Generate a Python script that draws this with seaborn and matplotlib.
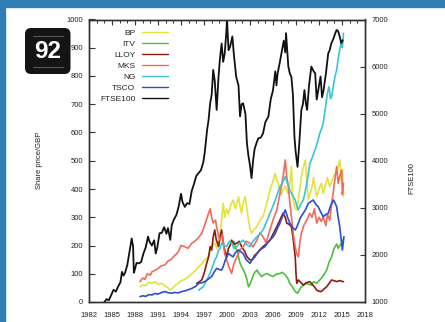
import numpy as np
import pandas as pd
import seaborn as sns
import matplotlib
matplotlib.use("Agg")
import matplotlib.pyplot as plt
from matplotlib.patches import FancyBboxPatch, Rectangle
from matplotlib.lines import Line2D

# ---- share prices (GBp) ----
bp_years = [1988.65, 1989.0, 1989.4, 1989.8, 1990.2, 1990.6, 1991.0, 1991.5, 1991.9, 1992.3, 1992.6, 1992.9,
            1993.2, 1993.6, 1994.0, 1994.5, 1995.0, 1995.4, 1995.9, 1996.3, 1996.7, 1997.1, 1997.5, 1997.9,
            1998.2, 1998.4, 1998.7, 1999.1, 1999.3, 1999.5, 1999.7, 1999.96, 2000.2, 2000.5, 2000.8, 2001.1,
            2001.5, 2001.7, 2001.9, 2002.1, 2002.35, 2002.6, 2002.8, 2003.0, 2003.2, 2003.5, 2003.9, 2004.3,
            2004.7, 2005.1, 2005.6, 2005.9, 2006.3, 2006.5, 2006.7, 2007.0, 2007.3, 2007.6, 2007.9, 2008.2,
            2008.4, 2008.6, 2008.9, 2009.1, 2009.4, 2009.7, 2009.9, 2010.2, 2010.4, 2010.6, 2010.8, 2011.0,
            2011.3, 2011.5, 2011.7, 2012.0, 2012.3, 2012.55, 2012.8, 2013.1, 2013.4, 2013.7, 2014.0, 2014.3,
            2014.5, 2014.7, 2014.9, 2015.05, 2015.2]
bp_vals = [54, 60, 58, 70, 66, 72, 62, 66, 58, 50, 42, 48,
           58, 66, 75, 80, 90, 100, 112, 125, 135, 149, 160, 185,
           200, 208, 190, 243, 290, 349, 300, 330, 310, 345, 361, 330,
           373, 340, 314, 350, 373, 330, 290, 260, 243, 255, 267, 290,
           302, 340, 396, 420, 455, 430, 420, 380, 396, 410, 385, 420,
           480, 361, 330, 326, 380, 444, 470, 503, 440, 361, 380, 396,
           440, 400, 373, 400, 420, 385, 410, 440, 408, 430, 450, 455,
           480, 503, 430, 470, 373]

itv_years = [2000.9, 2001.1, 2001.3, 2001.5, 2001.7, 2002.0, 2002.35, 2002.6, 2002.8, 2003.0, 2003.2, 2003.5,
             2003.9, 2004.2, 2004.5, 2004.8, 2005.2, 2005.6, 2006.0, 2006.4, 2006.9, 2007.2, 2007.6, 2007.9,
             2008.2, 2008.5, 2008.9, 2009.2, 2009.4, 2009.7, 2010.0, 2010.4, 2010.7, 2011.0, 2011.3, 2011.7,
             2012.0, 2012.3, 2012.6, 2013.0, 2013.3, 2013.65, 2013.9, 2014.1, 2014.3, 2014.5, 2014.7, 2014.95,
             2015.1]
itv_vals = [215, 190, 184, 160, 137, 120, 101, 80, 54, 62, 78, 100,
            113, 100, 90, 96, 101, 95, 90, 98, 101, 105, 96, 85,
            66, 55, 37, 31, 40, 54, 60, 66, 62, 60, 72, 66,
            75, 84, 95, 113, 140, 160, 185, 196, 205, 190, 200, 208,
            220]

lloy_years = [1996.05, 1996.4, 1996.7, 1997.0, 1997.35, 1997.6, 1997.8, 1998.0, 1998.2, 1998.4, 1998.6, 1998.9,
              1999.1, 1999.3, 1999.5, 1999.7, 1999.96, 2000.2, 2000.4, 2000.6, 2000.9, 2001.3, 2001.6, 2001.9,
              2002.3, 2002.6, 2003.0, 2003.3, 2003.6, 2003.9, 2004.3, 2004.7, 2005.1, 2005.6, 2006.0, 2006.5,
              2006.9, 2007.3, 2007.6, 2007.8, 2008.1, 2008.4, 2008.6, 2008.9, 2009.0, 2009.1, 2009.3, 2009.6,
              2009.95, 2010.3, 2010.8, 2011.2, 2011.5, 2011.7, 2012.0, 2012.3, 2012.6, 2013.0, 2013.3, 2013.65,
              2014.0, 2014.3, 2014.7, 2015.0, 2015.2]
lloy_vals = [66, 72, 78, 100, 137, 160, 196, 184, 230, 255, 220, 196,
             230, 255, 210, 185, 160, 190, 200, 219, 205, 208, 215, 196,
             180, 160, 149, 150, 165, 172, 185, 196, 205, 219, 240, 267,
             290, 314, 300, 279, 275, 267, 230, 160, 100, 66, 78, 70,
             60, 68, 72, 60, 50, 42, 38, 37, 45, 54, 65, 78,
             75, 72, 76, 73, 72]

mks_years = [1988.65, 1989.0, 1989.3, 1989.6, 1990.0, 1990.2, 1990.6, 1991.0, 1991.4, 1991.9, 1992.3, 1992.7,
             1993.0, 1993.4, 1993.65, 1994.0, 1994.5, 1994.9, 1995.4, 1995.8, 1996.2, 1996.7, 1997.0, 1997.3,
             1997.6, 1997.8, 1998.0, 1998.2, 1998.5, 1998.9, 1999.1, 1999.4, 1999.7, 1999.96, 2000.3, 2000.6,
             2000.9, 2001.3, 2001.7, 2002.1, 2002.5, 2003.0, 2003.4, 2003.9, 2004.3, 2004.7, 2005.1, 2005.6,
             2006.0, 2006.5, 2006.8, 2007.1, 2007.4, 2007.6, 2007.8, 2008.0, 2008.2, 2008.4, 2008.7, 2008.9,
             2009.1, 2009.3, 2009.5, 2009.7, 2010.0, 2010.4, 2010.8, 2011.1, 2011.4, 2011.7, 2012.0, 2012.3,
             2012.55, 2012.9, 2013.1, 2013.4, 2013.65, 2013.9, 2014.1, 2014.3, 2014.5, 2014.7, 2014.95, 2015.05,
             2015.2]
mks_vals = [72, 85, 80, 100, 95, 107, 112, 118, 128, 131, 145, 150,
            160, 170, 178, 200, 196, 190, 208, 215, 225, 243, 265, 290,
            314, 330, 300, 280, 290, 231, 219, 240, 170, 149, 120, 101,
            135, 160, 185, 196, 215, 208, 195, 219, 245, 231, 210, 255,
            290, 326, 370, 408, 460, 503, 440, 408, 350, 302, 230, 196,
            170, 160, 210, 243, 270, 290, 314, 300, 330, 279, 300, 285,
            302, 270, 310, 290, 350, 396, 440, 479, 420, 444, 467, 380,
            420]

ng_years = [1996.3, 1996.6, 1996.9, 1997.2, 1997.5, 1997.8, 1998.1, 1998.4, 1998.65, 1998.9, 1999.1, 1999.3,
            1999.6, 1999.96, 2000.3, 2000.6, 2000.9, 2001.3, 2001.7, 2002.1, 2002.5, 2003.0, 2003.4, 2003.9,
            2004.3, 2004.7, 2005.1, 2005.6, 2006.0, 2006.3, 2006.6, 2006.9, 2007.2, 2007.6, 2007.9, 2008.2,
            2008.5, 2008.9, 2009.1, 2009.3, 2009.6, 2009.95, 2010.2, 2010.4, 2010.6, 2010.8, 2011.1, 2011.5,
            2011.8, 2012.1, 2012.35, 2012.55, 2012.9, 2013.1, 2013.3, 2013.5, 2013.65, 2013.9, 2014.1, 2014.3,
            2014.5, 2014.7, 2014.9, 2015.05, 2015.2]
ng_vals = [42, 48, 54, 70, 85, 101, 125, 149, 160, 184, 190, 208,
           200, 196, 215, 208, 190, 196, 210, 219, 205, 196, 215, 231,
           240, 255, 280, 314, 340, 361, 385, 408, 420, 444, 420, 396,
           380, 361, 340, 326, 345, 361, 390, 420, 450, 490, 510, 540,
           565, 597, 615, 632, 700, 740, 762, 720, 727, 770, 800, 821,
           860, 892, 920, 900, 951]

tsco_years = [1988.65, 1989.0, 1989.4, 1989.8, 1990.2, 1990.6, 1991.0, 1991.5, 1991.9, 1992.3, 1992.8, 1993.2,
              1993.6, 1994.1, 1994.6, 1995.0, 1995.4, 1995.9, 1996.3, 1996.7, 1997.1, 1997.5, 1998.0, 1998.3,
              1998.65, 1999.0, 1999.3, 1999.5, 1999.8, 2000.2, 2000.5, 2000.8, 2001.1, 2001.5, 2001.8, 2002.1,
              2002.5, 2003.0, 2003.3, 2003.65, 2004.0, 2004.3, 2004.6, 2004.95, 2005.3, 2005.6, 2006.0, 2006.3,
              2006.6, 2006.9, 2007.2, 2007.6, 2007.9, 2008.2, 2008.6, 2008.9, 2009.1, 2009.3, 2009.6, 2009.95,
              2010.3, 2010.6, 2010.9, 2011.25, 2011.6, 2011.9, 2012.2, 2012.55, 2012.9, 2013.2, 2013.5, 2013.9,
              2014.1, 2014.3, 2014.5, 2014.7, 2014.9, 2015.05, 2015.25]
tsco_vals = [19, 22, 20, 26, 25, 30, 28, 34, 37, 33, 31, 34,
             32, 37, 40, 44, 48, 55, 66, 68, 72, 80, 90, 105,
             119, 115, 113, 125, 150, 172, 165, 160, 175, 184, 178, 172,
             150, 137, 150, 160, 175, 184, 190, 196, 210, 219, 230, 243,
             262, 279, 300, 326, 300, 279, 262, 255, 265, 279, 300, 314,
             330, 349, 355, 361, 345, 337, 320, 302, 310, 314, 340, 361,
             350, 337, 300, 267, 220, 184, 231]

# ---- FTSE 100 index (right axis) ----
ftse_years = [1984.0, 1984.3, 1984.6, 1984.9, 1985.2, 1985.5, 1985.8, 1986.1, 1986.3, 1986.5, 1986.7, 1987.0,
              1987.3, 1987.57, 1987.75, 1987.85, 1988.0, 1988.2, 1988.5, 1988.8, 1989.1, 1989.4, 1989.7, 1989.9,
              1990.2, 1990.5, 1990.7, 1990.9, 1991.2, 1991.5, 1991.8, 1992.1, 1992.3, 1992.6, 1992.8, 1993.1,
              1993.4, 1993.7, 1994.0, 1994.2, 1994.5, 1994.8, 1995.1, 1995.4, 1995.7, 1996.0, 1996.3, 1996.6,
              1996.9, 1997.1, 1997.4, 1997.6, 1997.8, 1998.0, 1998.2, 1998.4, 1998.65, 1998.9, 1999.1, 1999.3,
              1999.5, 1999.7, 1999.9, 2000.0, 2000.2, 2000.4, 2000.7, 2000.9, 2001.2, 2001.5, 2001.7, 2001.9,
              2002.1, 2002.4, 2002.6, 2002.8, 2003.0, 2003.2, 2003.4, 2003.6, 2003.9, 2004.1, 2004.4, 2004.7,
              2005.0, 2005.4, 2005.7, 2006.0, 2006.3, 2006.45, 2006.6, 2006.9, 2007.1, 2007.4, 2007.6, 2007.7,
              2007.9, 2008.0, 2008.2, 2008.4, 2008.6, 2008.8, 2008.95, 2009.2, 2009.4, 2009.7, 2009.9, 2010.1,
              2010.3, 2010.45, 2010.7, 2011.0, 2011.3, 2011.5, 2011.7, 2011.9, 2012.2, 2012.4, 2012.6, 2012.9,
              2013.2, 2013.4, 2013.6, 2013.9, 2014.1, 2014.3, 2014.5, 2014.7, 2014.9, 2015.1]
ftse_vals = [1000, 1060, 1040, 1150, 1260, 1220, 1330, 1420, 1640, 1560, 1620, 1790,
             2080, 2350, 2180, 1620, 1700, 1830, 1820, 1850, 2030, 2160, 2390, 2280,
             2200, 2310, 2030, 2150, 2460, 2470, 2590, 2450, 2570, 2320, 2640, 2760,
             2850, 3030, 3300, 3120, 3020, 3100, 3080, 3360, 3510, 3680, 3740, 3800,
             3960, 4180, 4650, 4870, 5220, 5400, 5930, 5700, 5080, 5800, 6200, 6490,
             6100, 6280, 6700, 6990, 6350, 6420, 6640, 6250, 5780, 5600, 4940, 5200,
             5220, 5000, 4370, 4100, 3900, 3630, 4000, 4250, 4400, 4480, 4490, 4580,
             4820, 4940, 5300, 5500, 5900, 5600, 5850, 6100, 6280, 6550, 6300, 6710,
             6250, 6000, 5850, 5780, 5400, 4500, 4200, 3870, 4300, 5080, 5200, 5500,
             5200, 5080, 5600, 6000, 5900, 5860, 5300, 5500, 5790, 5350, 5500, 5850,
             6280, 6350, 6490, 6600, 6700, 6780, 6750, 6640, 6500, 6560]

tickers = ["BP", "ITV", "LLOY", "MKS", "NG", "TSCO"]
series = {"BP": (bp_years, bp_vals), "ITV": (itv_years, itv_vals), "LLOY": (lloy_years, lloy_vals),
          "MKS": (mks_years, mks_vals), "NG": (ng_years, ng_vals), "TSCO": (tsco_years, tsco_vals)}
palette = {"BP": "#e4e23c", "ITV": "#4cbf3c", "LLOY": "#8c1c10", "MKS": "#f26a5c",
           "NG": "#3cc4d4", "TSCO": "#2c4ed0", "FTSE100": "#111111"}

x_ticks = list(range(1982, 2019, 3))
left_ticks = list(range(0, 1001, 100))
right_ticks = list(range(1000, 7001, 1000))

shares = pd.concat(
    [pd.DataFrame({"year": series[t][0], "price": series[t][1], "ticker": t}) for t in tickers],
    ignore_index=True)
ftse = pd.DataFrame({"year": ftse_years, "index": ftse_vals})

sns.set_style("white")
plt.rcParams["font.family"] = ["Liberation Sans", "DejaVu Sans"]
plt.rcParams["axes.edgecolor"] = "#333333"
plt.rcParams["xtick.color"] = "#333333"
plt.rcParams["ytick.color"] = "#333333"

fig = plt.figure(figsize=(4.45, 3.22), dpi=100)
fig.patch.set_facecolor("white")
ax = fig.add_axes([89 / 445, 20 / 322, 276 / 445, 282.5 / 322])
ax2 = ax.twinx()

sns.lineplot(data=shares, x="year", y="price", hue="ticker", hue_order=tickers, palette=palette,
             sort=False, estimator=None, linewidth=1.2, legend=False, ax=ax)
sns.lineplot(data=ftse, x="year", y="index", color=palette["FTSE100"], sort=False, estimator=None,
             linewidth=1.3, legend=False, ax=ax2)

ax.set_xlim(1982, 2018)
ax.set_ylim(0, 1000)
ax2.set_ylim(1000, 7000)
ax.set_xticks(x_ticks)
ax.set_xticks(list(range(1982, 2019)), minor=True)
ax.set_yticks(left_ticks)
ax2.set_yticks(right_ticks)

lab_kw = dict(fontsize=5.5, color="#222222")
ax.tick_params(axis="x", which="major", direction="in", length=3.5, width=0.8, top=True,
               labelsize=5.5, pad=7.5, labelcolor="#222222")
ax.tick_params(axis="x", which="minor", direction="in", length=2.0, width=0.7, top=True)
ax.tick_params(axis="y", which="major", direction="in", length=4.5, width=0.8, right=False,
               labelsize=5.5, pad=4.3, labelcolor="#222222")
ax2.tick_params(axis="y", which="major", direction="in", length=3.5, width=0.8,
                labelsize=5.5, pad=4.8, labelcolor="#222222")

ax.set_xlabel("")
ax.set_ylabel("Share price/GBP", **lab_kw)
ax2.set_ylabel("FTSE100", **lab_kw)
ax.yaxis.set_label_coords(-0.167, 0.5)
ax2.yaxis.set_label_coords(1.156, 0.44)

for a in (ax, ax2):
    for s in a.spines.values():
        s.set_linewidth(1.0)
        s.set_color("#333333")

handles = [Line2D([], [], color=palette[t], lw=1.0) for t in tickers]
handles.append(Line2D([], [], color=palette["FTSE100"], lw=1.0))
ax2.legend(handles, tickers + ["FTSE100"], loc="upper left", bbox_to_anchor=(0.04, 0.966),
           frameon=False, markerfirst=False, fontsize=6.0, handlelength=3.2, handletextpad=0.75,
           labelspacing=0.38, borderpad=0, borderaxespad=0, labelcolor="#222222")

# page frame and number badge
blue = "#2e7db3"
fig.patches.append(Rectangle((0, 0), 5 / 445, 1, transform=fig.transFigure, color=blue, zorder=0))
fig.patches.append(Rectangle((0, 1 - 7 / 322), 1, 7 / 322, transform=fig.transFigure, color=blue, zorder=0))
badge = FancyBboxPatch((0.25, 2.48), 0.455, 0.46, boxstyle="round,pad=0,rounding_size=0.06",
                       transform=fig.dpi_scale_trans, facecolor="#141414", edgecolor="none", zorder=5)
fig.patches.append(badge)
for yy in (2.86, 2.55):
    fig.lines.append(Line2D([0.33, 0.63], [yy, yy], transform=fig.dpi_scale_trans,
                            color="#8a8a8a", lw=0.6, alpha=0.7, zorder=6))
fig.text(0.4775, 2.71, "92", transform=fig.dpi_scale_trans, ha="center", va="center",
         fontsize=17.5, fontweight="bold", color="white", zorder=7)

fig.savefig("out.png", dpi=100, facecolor="white")
